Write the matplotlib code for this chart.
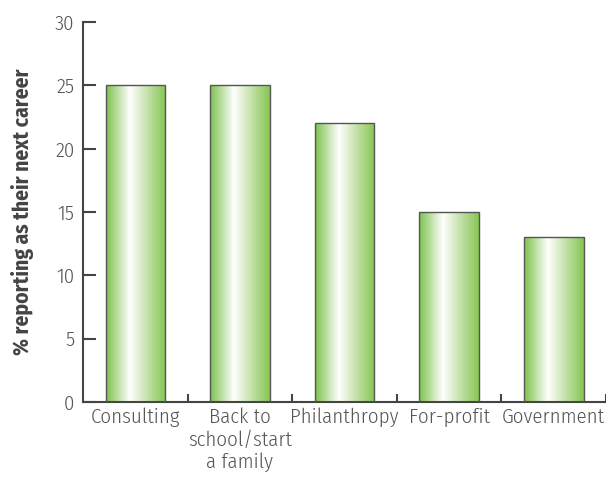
import numpy as np
import matplotlib.pyplot as plt
from matplotlib.colors import LinearSegmentedColormap

categories = ["Consulting", "Back to\nschool/start\na family", "Philanthropy", "For-profit", "Government"]
values = [25, 25, 22, 15, 13]
yticks = [0, 5, 10, 15, 20, 25, 30]

plt.rcParams['font.family'] = ['Fira Sans Condensed', 'DejaVu Sans']

fig = plt.figure(figsize=(6.06, 4.83), dpi=100)
ax = fig.add_axes([0.137, 0.168, 0.863, 0.786])

# gradient: green edge -> white highlight -> green edge
cmap = LinearSegmentedColormap.from_list(
  "barshine",
  [(0.0, "#7cc24a"), (0.40, "#ffffff"), (0.75, "#b8dc98"), (1.0, "#86c652")]
)
grad = np.linspace(0, 1, 256).reshape(1, -1)

width = 0.57
x = np.arange(len(categories))
bars = ax.bar(x, values, width=width, color="none", edgecolor="#555555", linewidth=1.0, zorder=3)
for b in bars:
  x0, y0 = b.get_x(), b.get_y()
  im = ax.imshow(grad, cmap=cmap, aspect="auto", interpolation="bilinear",
                 extent=[x0, x0 + b.get_width(), y0, y0 + b.get_height()], zorder=2)
  im.set_clip_path(b)

ax.set_xlim(-0.5, len(categories) - 0.5)
ax.set_ylim(0, 30)

for s in ["top", "right"]:
  ax.spines[s].set_visible(False)
for s in ["left", "bottom"]:
  ax.spines[s].set_color("#444444")
  ax.spines[s].set_linewidth(1.5)

ax.set_yticks(yticks)
ax.tick_params(axis="y", direction="in", length=9, width=1.5, color="#444444",
               labelsize=15, labelcolor="#555555", pad=6)
ax.set_xticks(x)
ax.set_xticklabels(categories, linespacing=1.2)
ax.set_xticks(np.arange(len(categories)) + 0.5, minor=True)
ax.tick_params(axis="x", which="major", length=0, labelsize=15, labelcolor="#555555", pad=4)
ax.tick_params(axis="x", which="minor", direction="in", length=6, width=1.5, color="#444444")
for lbl in ax.get_xticklabels() + ax.get_yticklabels():
  lbl.set_fontweight(300)

ax.set_ylabel("% reporting as their next career", fontsize=15.5, fontweight="bold",
              color="#444444", labelpad=15)

fig.savefig("out.png", dpi=100)
